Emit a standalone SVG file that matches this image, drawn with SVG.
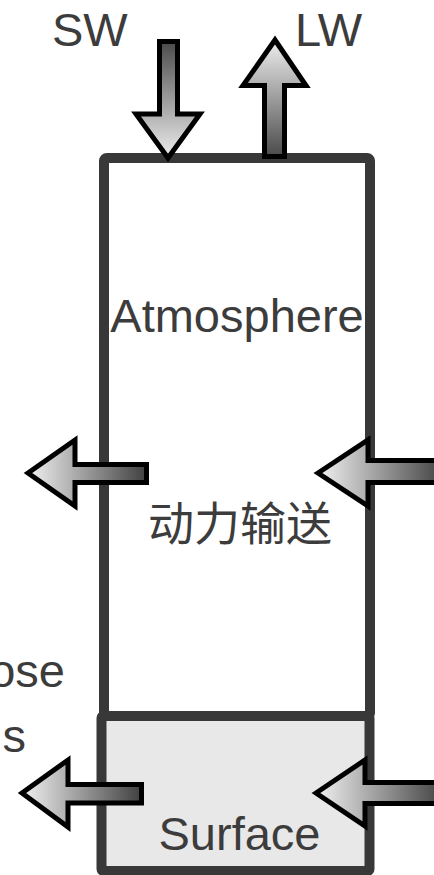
<svg xmlns="http://www.w3.org/2000/svg" width="434" height="875" viewBox="0 0 434 875">
  <defs>
    <linearGradient id="gDown" x1="0" y1="0" x2="0" y2="1">
      <stop offset="0" stop-color="#4a4a4a"/>
      <stop offset="1" stop-color="#efefef"/>
    </linearGradient>
    <linearGradient id="gUp" x1="0" y1="0" x2="0" y2="1">
      <stop offset="0" stop-color="#efefef"/>
      <stop offset="1" stop-color="#4a4a4a"/>
    </linearGradient>
    <linearGradient id="gLeft" x1="0" y1="0" x2="1" y2="0">
      <stop offset="0" stop-color="#f2f2f2"/>
      <stop offset="1" stop-color="#404040"/>
    </linearGradient>
  </defs>
  <style>
    .box { stroke: #383838; stroke-width: 10; }
    .lbl { font-family: "Liberation Sans", Arial, sans-serif; font-size: 47px; fill: #3c3c3c; }
    .cjk { font-family: "Noto Sans CJK SC", "Liberation Sans", sans-serif; font-size: 46px; fill: #3c3c3c; }
    .arrow { stroke: #000; stroke-width: 5; stroke-linejoin: miter; }
  </style>
  <rect width="434" height="875" fill="#ffffff"/>

  <g id="atmosphere">
    <rect class="box" x="104" y="158" width="266" height="558" rx="3" fill="#ffffff"/>
    <text class="lbl" x="237" y="332" text-anchor="middle">Atmosphere</text>
    <text class="cjk" x="240" y="540" text-anchor="middle">动力输送</text>
  </g>

  <g id="surface">
    <rect class="box" x="101.5" y="716" width="268" height="155" rx="2" fill="#e8e8e8" stroke-width="9"/>
    <text class="lbl" x="239.5" y="850" text-anchor="middle">Surface</text>
  </g>

  <g id="labels">
    <text class="lbl" x="52" y="46">SW</text>
    <text class="lbl" x="295" y="46">LW</text>
    <text class="lbl" x="65" y="687" text-anchor="end">ose</text>
    <text class="lbl" x="26" y="752" text-anchor="end">s</text>
  </g>

  <g id="connectors">
    <polygon id="sw-arrow" class="arrow" fill="url(#gDown)" points="159.5,41.5 177.5,41.5 177.5,114 200,114 168,158 136,114 159.5,114"/>
    <polygon id="lw-arrow" class="arrow" fill="url(#gUp)" points="275,40 306,85.5 284.5,85.5 284.5,156.5 264.5,156.5 264.5,85.5 243,85.5"/>
    <polygon id="atm-out" class="arrow" fill="url(#gLeft)" points="28,473 75,440 75,464.5 146.5,464.5 146.5,482.5 75,482.5 75,506"/>
    <polygon id="atm-in" class="arrow" fill="url(#gLeft)" points="318,473 368,440 368,460.5 445,460.5 445,482.5 368,482.5 368,506"/>
    <polygon id="sfc-out" class="arrow" fill="url(#gLeft)" points="22,793 68,760 68,784.5 141.5,784.5 141.5,803 68,803 68,827"/>
    <polygon id="sfc-in" class="arrow" fill="url(#gLeft)" points="316,793 365,760 365,782.5 445,782.5 445,803.5 365,803.5 365,826"/>
  </g>
</svg>
